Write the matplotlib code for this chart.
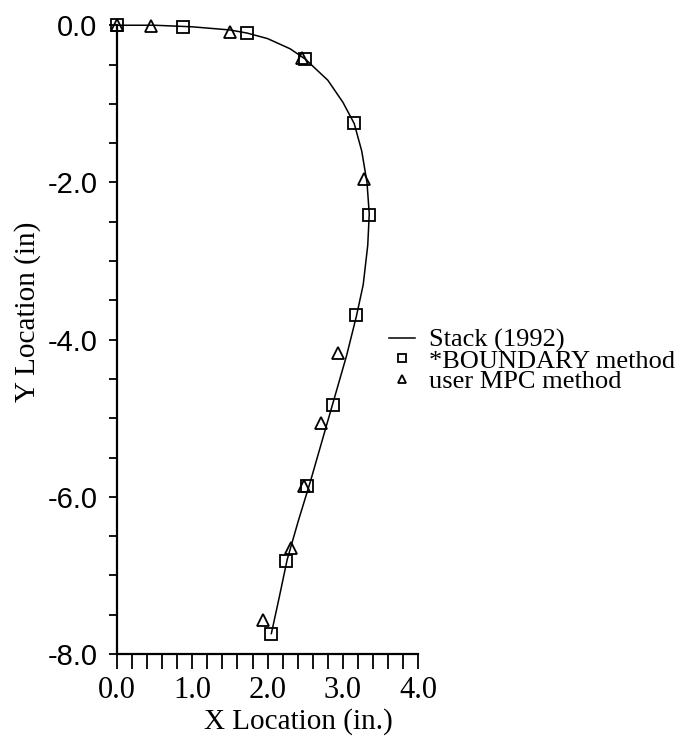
import numpy as np
import matplotlib
matplotlib.use("Agg")
import matplotlib.pyplot as plt
from matplotlib.ticker import MultipleLocator, FormatStrFormatter

# Stack (1992) reference curve
stack_x = [0.0, 0.5, 1.0, 1.5, 1.73, 2.0, 2.3, 2.5, 2.8, 3.0, 3.15, 3.25, 3.32,
           3.35, 3.33, 3.27, 3.18, 3.05, 2.9, 2.75, 2.57, 2.41, 2.26, 2.15, 2.05]
stack_y = [0.0, 0.0, -0.02, -0.06, -0.1, -0.17, -0.3, -0.43, -0.7, -0.98, -1.25,
           -1.6, -2.0, -2.4, -2.8, -3.3, -3.7, -4.2, -4.7, -5.2, -5.8, -6.3,
           -6.8, -7.3, -7.74]

# *BOUNDARY method
bnd_x = [0.0, 0.88, 1.73, 2.50, 3.15, 3.35, 3.18, 2.87, 2.52, 2.25, 2.05]
bnd_y = [0.0, -0.02, -0.10, -0.43, -1.25, -2.42, -3.69, -4.83, -5.86, -6.82, -7.74]

# user MPC method
mpc_x = [0.0, 0.45, 1.50, 2.46, 3.28, 2.94, 2.71, 2.49, 2.31, 1.94]
mpc_y = [0.0, -0.01, -0.08, -0.42, -1.95, -4.17, -5.06, -5.86, -6.65, -7.57]

serif = "Liberation Serif"
sans = "Liberation Sans"

fig = plt.figure(figsize=(6.8, 7.38), dpi=100)
ax = fig.add_axes([0.172, 0.1138, 0.443, 0.852])

ax.plot(stack_x, stack_y, color="black", lw=1.1, label="Stack (1992)", clip_on=False)
ax.plot(bnd_x, bnd_y, ls="none", marker="s", ms=8, mfc="none", mec="black",
        mew=1.3, label="*BOUNDARY method", clip_on=False)
ax.plot(mpc_x, mpc_y, ls="none", marker="^", ms=8, mfc="none", mec="black",
        mew=1.3, label="user MPC method", clip_on=False)

ax.set_xlim(0, 4.0)
ax.set_ylim(-8.0, 0.0)

for s in ["top", "right"]:
    ax.spines[s].set_visible(False)
for s in ["left", "bottom"]:
    ax.spines[s].set_linewidth(1.6)

ax.xaxis.set_major_locator(MultipleLocator(1.0))
ax.xaxis.set_minor_locator(MultipleLocator(0.2))
ax.yaxis.set_major_locator(MultipleLocator(2.0))
ax.yaxis.set_minor_locator(MultipleLocator(0.5))
ax.xaxis.set_major_formatter(FormatStrFormatter("%.1f"))
ax.yaxis.set_major_formatter(FormatStrFormatter("%.1f"))

ax.tick_params(axis="x", which="both", direction="out", length=11, width=1.3,
               pad=5)
ax.tick_params(axis="y", which="both", direction="out", length=6, width=1.3,
               pad=8)
for lab in ax.get_xticklabels():
    lab.set_fontfamily(serif)
    lab.set_fontsize(22)
for lab in ax.get_yticklabels():
    lab.set_fontfamily(sans)
    lab.set_fontsize(21)

ax.set_xlabel("X Location (in.)", fontfamily=serif, fontsize=21)
ax.set_ylabel("Y Location (in)", fontfamily=serif, fontsize=21)
ax.xaxis.set_label_coords(0.603, -0.086)
ax.yaxis.set_label_coords(-0.252, 0.545)

fig.legend(loc="upper left", bbox_to_anchor=(0.572, 0.555),
           bbox_transform=fig.transFigure, frameon=False, handlelength=1.0,
           handletextpad=0.5, labelspacing=-0.12, borderpad=0, borderaxespad=0,
           markerscale=0.7, prop={"family": serif, "size": 19})

fig.savefig("out.png", dpi=100)
